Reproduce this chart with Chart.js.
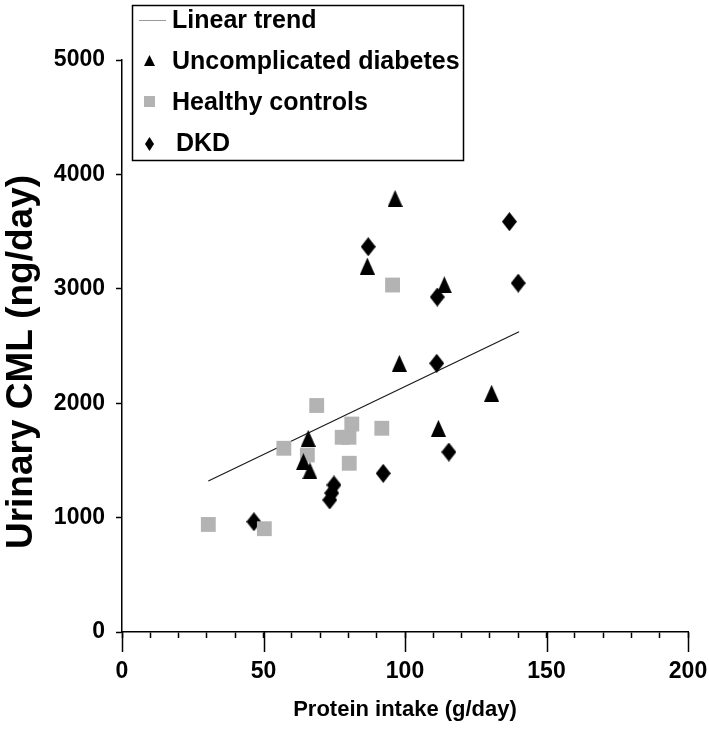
<!DOCTYPE html>
<html>
<head>
<meta charset="utf-8">
<script src="https://cdn.jsdelivr.net/npm/chart.js@4"></script>
<style>
  body { margin: 0; background: #fff; }
  canvas { display: block; }
</style>
</head>
<body>
<canvas id="cml-chart" width="709" height="732"></canvas>
<script>
// Values
const diabetesX = [96.5, 86.7, 113.9, 98.0, 130.6, 111.8, 65.8, 64.1, 66.4];
const diabetesY = [3790, 3199, 3035, 2349, 2087, 1781, 1693, 1489, 1410];

const controlsX = [30.5, 50.3, 57.2, 65.5, 68.8, 77.8, 80.2, 81.2, 80.3, 91.8, 95.6];
const controlsY = [940, 903, 1606, 1547, 1980, 1702, 1702, 1818, 1475, 1781, 3033];

const dkdX = [87.0, 136.9, 140.0, 111.4, 111.2, 115.5, 92.3, 74.9, 74.1, 73.4, 46.6];
const dkdY = [3368, 3587, 3050, 2928, 2349, 1573, 1387, 1285, 1215, 1154, 964];

const trendX = [30.5, 140.3];
const trendY = [1320, 2625];

const xTickLabels = [0, 50, 100, 150, 200];
const yTickLabels = [0, 1000, 2000, 3000, 4000, 5000];

const FONT = "'Liberation Sans', Arial, sans-serif";

function toPoints(xs, ys) {
    return xs.map((x, i) => ({ x: x, y: ys[i] }));
}

// marker images (taller than Chart.js' own triangle / rectRot)
function makeMarker(w, h, path) {
    const c = document.createElement('canvas');
    c.width = w;
    c.height = h;
    const g = c.getContext('2d');
    g.fillStyle = '#000';
    g.beginPath();
    path(g, w, h);
    g.closePath();
    g.fill();
    return c;
}

const triangleImg = makeMarker(15, 17, (g, w, h) => {
    g.moveTo(w / 2, 0);
    g.lineTo(w, h);
    g.lineTo(0, h);
});
const diamondImg = makeMarker(15, 19, (g, w, h) => {
    g.moveTo(w / 2, 0);
    g.lineTo(w, h / 2);
    g.lineTo(w / 2, h);
    g.lineTo(0, h / 2);
});

// boxed legend in the top-left corner, like the original
const boxLegend = {
    id: 'boxLegend',
    afterDraw(chart) {
        const ctx = chart.ctx;
        const ds = chart.data.datasets;
        ctx.save();
        ctx.fillStyle = '#fff';
        ctx.fillRect(132.5, 5.5, 331, 155);
        ctx.strokeStyle = '#000';
        ctx.lineWidth = 1.5;
        ctx.strokeRect(132.5, 5.5, 331, 155);

        ctx.font = 'bold 25px ' + FONT;
        ctx.textBaseline = 'middle';
        ctx.fillStyle = '#000';

        // Linear trend
        ctx.strokeStyle = '#999';
        ctx.lineWidth = 1;
        ctx.beginPath();
        ctx.moveTo(139, 20.5);
        ctx.lineTo(166, 20.5);
        ctx.stroke();
        ctx.fillText(ds[3].label, 172, 21);

        // Uncomplicated diabetes
        ctx.beginPath();
        ctx.moveTo(149.5, 55);
        ctx.lineTo(155, 66);
        ctx.lineTo(144, 66);
        ctx.closePath();
        ctx.fill();
        ctx.fillText(ds[0].label, 172, 62);

        // Healthy controls
        ctx.fillStyle = '#b3b3b3';
        ctx.fillRect(144, 96, 11, 11);
        ctx.fillStyle = '#000';
        ctx.fillText(ds[1].label, 172, 103);

        // DKD
        ctx.beginPath();
        ctx.moveTo(149.5, 137);
        ctx.lineTo(154, 144);
        ctx.lineTo(149.5, 151);
        ctx.lineTo(145, 144);
        ctx.closePath();
        ctx.fill();
        ctx.fillText(ds[2].label, 176, 144);
        ctx.restore();
    }
};

// long ticks at the labelled x values, y axis title
const axisExtras = {
    id: 'axisExtras',
    afterDraw(chart) {
        const ctx = chart.ctx;
        const xs = chart.scales.x;
        const bottom = chart.chartArea.bottom;
        ctx.save();
        ctx.strokeStyle = '#000';
        ctx.lineWidth = 1.5;
        xTickLabels.forEach(v => {
            const px = Math.round(xs.getPixelForValue(v)) + 0.5;
            ctx.beginPath();
            ctx.moveTo(px, bottom);
            ctx.lineTo(px, bottom + 20);
            ctx.stroke();
        });

        ctx.translate(22, 362);
        ctx.rotate(-Math.PI / 2);
        ctx.font = 'bold 37px ' + FONT;
        ctx.textAlign = 'center';
        ctx.textBaseline = 'middle';
        ctx.fillStyle = '#000';
        ctx.fillText('Urinary CML (ng/day)', 0, 0);
        ctx.restore();
    }
};

new Chart(document.getElementById('cml-chart'), {
    type: 'scatter',
    data: {
        datasets: [
            {
                label: 'Uncomplicated diabetes',
                data: toPoints(diabetesX, diabetesY),
                pointStyle: triangleImg,
                pointRadius: 9,
                backgroundColor: '#000'
            },
            {
                label: 'Healthy controls',
                data: toPoints(controlsX, controlsY),
                pointStyle: 'rect',
                pointRadius: 10.5,
                backgroundColor: '#b3b3b3',
                borderWidth: 0
            },
            {
                label: 'DKD',
                data: toPoints(dkdX, dkdY),
                pointStyle: diamondImg,
                pointRadius: 9,
                backgroundColor: '#000'
            },
            {
                label: 'Linear trend',
                type: 'line',
                data: toPoints(trendX, trendY),
                borderColor: '#1a1a1a',
                borderWidth: 1.2,
                pointRadius: 0,
                fill: false
            }
        ]
    },
    options: {
        responsive: false,
        animation: false,
        layout: { padding: { top: 60, right: 0, left: 0, bottom: 0 } },
        plugins: {
            legend: { display: false },
            tooltip: { enabled: false }
        },
        scales: {
            x: {
                type: 'linear',
                min: 0,
                max: 200,
                afterFit: s => { s.height = 100; s.paddingRight = 21; },
                border: { display: true, color: '#000', width: 1.5 },
                grid: { drawOnChartArea: false, drawTicks: true, tickLength: 6, color: '#000', tickWidth: 1.5 },
                ticks: {
                    stepSize: 10,
                    autoSkip: false,
                    maxRotation: 0,
                    padding: 20,
                    color: '#000',
                    font: { family: FONT, size: 23, weight: 'bold' },
                    callback: v => xTickLabels.includes(v) ? String(v) : ''
                },
                title: {
                    display: true,
                    text: 'Protein intake (g/day)',
                    color: '#000',
                    font: { family: FONT, size: 22, weight: 'bold' },
                    padding: { top: 0, bottom: 9 }
                }
            },
            y: {
                type: 'linear',
                min: 0,
                max: 5000,
                afterFit: s => { s.width = 122; },
                border: { display: true, color: '#000', width: 1.5 },
                grid: { drawOnChartArea: false, drawTicks: true, tickLength: 6, color: '#000', tickWidth: 1.5 },
                ticks: {
                    stepSize: 1000,
                    padding: 11,
                    color: '#000',
                    font: { family: FONT, size: 23, weight: 'bold' },
                    callback: v => yTickLabels.includes(v) ? String(v) : ''
                }
            }
        }
    },
    plugins: [axisExtras, boxLegend]
});
</script>
</body>
</html>
